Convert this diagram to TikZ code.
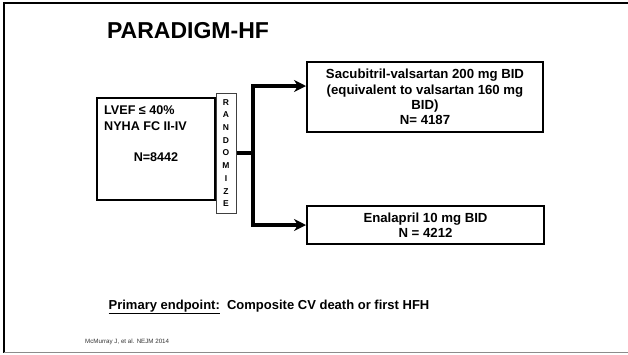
\documentclass[tikz,border=0pt]{standalone}
\usepackage{fontspec}
\setmainfont{Liberation Sans}
\usetikzlibrary{arrows.meta}

\tikzset{
  box/.style={draw, line width=2pt, align=center, inner sep=0pt,
    font=\fontsize{13.2}{15.4}\selectfont\bfseries},
  randbox/.style={draw=black!75, line width=1pt, align=center, inner sep=0pt,
    minimum width=20pt, minimum height=120pt, font=\fontsize{8.5}{12.7}\selectfont\bfseries},
  arm/.style={line width=3.5pt, -{Stealth[length=12pt,width=12pt]}}
}

\begin{document}
\begin{tikzpicture}[x=1pt,y=-1pt]
\useasboundingbox (0,0) rectangle (628,354);
\draw[line width=2.5pt] (628,3) -- (4,3) -- (4,353);
\draw[black!45, line width=1pt] (4,352.5) -- (628,352.5);
\node[font=\fontsize{23}{26}\selectfont\bfseries] (title) at (188,31) {PARADIGM-HF};
\node[box, minimum width=118pt, minimum height=102pt] (pop) at (156,149) {};
\node[anchor=west, align=left, inner sep=0pt, font=\fontsize{12.6}{16}\selectfont\bfseries] (crit) at (104,118) {LVEF ≤ 40\%\\NYHA FC II-IV};
\node[font=\fontsize{12.6}{16}\selectfont\bfseries] (npop) at (156,157) {N=8442};
\node[randbox] (rand) at (226,153) {R\\A\\N\\D\\O\\M\\I\\Z\\E};
\node[box, minimum width=236pt, minimum height=70pt] (sv) at (425,97) {Sacubitril-valsartan 200 mg BID\\(equivalent to valsartan 160 mg\\BID)\\N= 4187};
\node[box, minimum width=237pt, minimum height=38pt] (en) at (425.5,225) {Enalapril 10 mg BID\\N = 4212};
\coordinate (fork) at (253,153);
\draw[line width=3.5pt] (rand.east) -- (fork);
\draw[arm] (fork) |- ([yshift=11pt]sv.west);
\draw[arm] (fork) |- (en.west);
\node[font=\fontsize{13}{15}\selectfont\bfseries] (endpt) at (269,307) {\underline{Primary endpoint:}\ \ Composite CV death or first HFH};
\node[anchor=west, inner sep=0pt, text=black!80, font=\fontsize{6.2}{7}\selectfont] (cite) at (85,342) {McMurray J, et al. NEJM 2014};
\end{tikzpicture}
\end{document}
